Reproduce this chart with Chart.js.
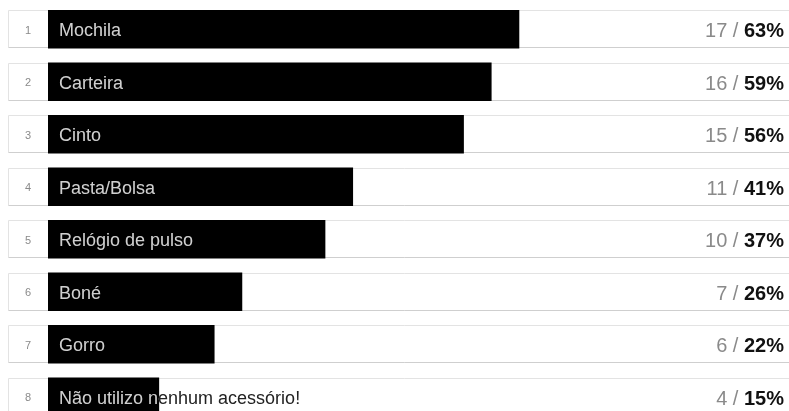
<!DOCTYPE html>
<html>
<head>
<meta charset="utf-8">
<script src="https://cdn.jsdelivr.net/npm/chart.js@4/dist/chart.umd.min.js"></script>
<style>
  html, body { margin: 0; padding: 0; background: #fff; overflow: hidden; width: 789px; height: 411px; }
  canvas { display: block; }
</style>
</head>
<body>
<canvas id="chart" width="800" height="424"></canvas>
<script>
// answers, counts and percents read from the summary
const labels = ['Mochila', 'Carteira', 'Cinto', 'Pasta/Bolsa', 'Relógio de pulso', 'Boné', 'Gorro', 'Não utilizo nenhum acessório!'];
const counts = [17, 16, 15, 11, 10, 7, 6, 4];
const percents = [63, 59, 56, 41, 37, 26, 22, 15];
const total = 27;

const FONT = 'Helvetica, Arial, "Liberation Sans", sans-serif';

// row boxes behind the bars
const rowBoxes = {
  id: 'rowBoxes',
  beforeDatasetsDraw(chart) {
    const ctx = chart.ctx;
    const y = chart.scales.y;
    ctx.save();
    labels.forEach(function (l, i) {
      const cy = y.getPixelForValue(i);
      const top = Math.round(cy - 19) + 0.5, bottom = Math.round(cy + 19) - 0.5;
      ctx.fillStyle = '#fff';
      ctx.fillRect(8, top, chart.width, bottom - top);
      ctx.strokeStyle = '#e3e3e3';
      ctx.lineWidth = 1;
      ctx.beginPath();
      ctx.moveTo(chart.width + 5, top);
      ctx.lineTo(8.5, top);
      ctx.lineTo(8.5, bottom);
      ctx.stroke();
      ctx.strokeStyle = '#cfcfcf';
      ctx.beginPath();
      ctx.moveTo(8.5, bottom);
      ctx.lineTo(chart.width + 5, bottom);
      ctx.stroke();
    });
    ctx.restore();
  }
};

// numbers, labels and the count / percent text
const rowText = {
  id: 'rowText',
  afterDatasetsDraw(chart) {
    const ctx = chart.ctx;
    const y = chart.scales.y;
    const meta = chart.getDatasetMeta(0);
    ctx.save();
    ctx.textBaseline = 'alphabetic';
    labels.forEach(function (l, i) {
      const cy = y.getPixelForValue(i);
      const bar = meta.data[i];

      ctx.font = '11px ' + FONT;
      ctx.textAlign = 'center';
      ctx.fillStyle = '#8a8a8a';
      ctx.fillText(String(i + 1), 28, cy + 4.5);

      ctx.font = '18px ' + FONT;
      ctx.textAlign = 'left';
      ctx.fillStyle = '#222';
      ctx.fillText(l, 59, cy + 7);
      // part of the label that sits on the bar
      ctx.save();
      ctx.beginPath();
      ctx.rect(bar.base, cy - 20, bar.x - bar.base, 40);
      ctx.clip();
      ctx.fillStyle = '#cfcfcf';
      ctx.fillText(l, 59, cy + 7);
      ctx.restore();

      const right = 784;
      const pct = percents[i] + '%';
      ctx.textAlign = 'right';
      ctx.font = 'bold 20px ' + FONT;
      ctx.fillStyle = '#111';
      ctx.fillText(pct, right, cy + 8);
      const w = ctx.measureText(pct).width;
      ctx.font = '20px ' + FONT;
      ctx.fillStyle = '#8a8a8a';
      ctx.fillText(counts[i] + ' / ', right - w, cy + 8);
    });
    ctx.restore();
  }
};

new Chart(document.getElementById('chart'), {
  type: 'bar',
  data: {
    labels: labels,
    datasets: [{
      data: counts,
      backgroundColor: '#000',
      borderWidth: 0,
      barThickness: 38
    }]
  },
  options: {
    indexAxis: 'y',
    responsive: false,
    animation: false,
    layout: { padding: { left: 48, right: 4, top: 3, bottom: 1 } },
    plugins: { legend: { display: false }, tooltip: { enabled: false } },
    scales: {
      x: { min: 0, max: total, display: false, grid: { display: false } },
      y: { display: false, grid: { display: false } }
    }
  },
  plugins: [rowBoxes, rowText]
});
</script>
</body>
</html>
